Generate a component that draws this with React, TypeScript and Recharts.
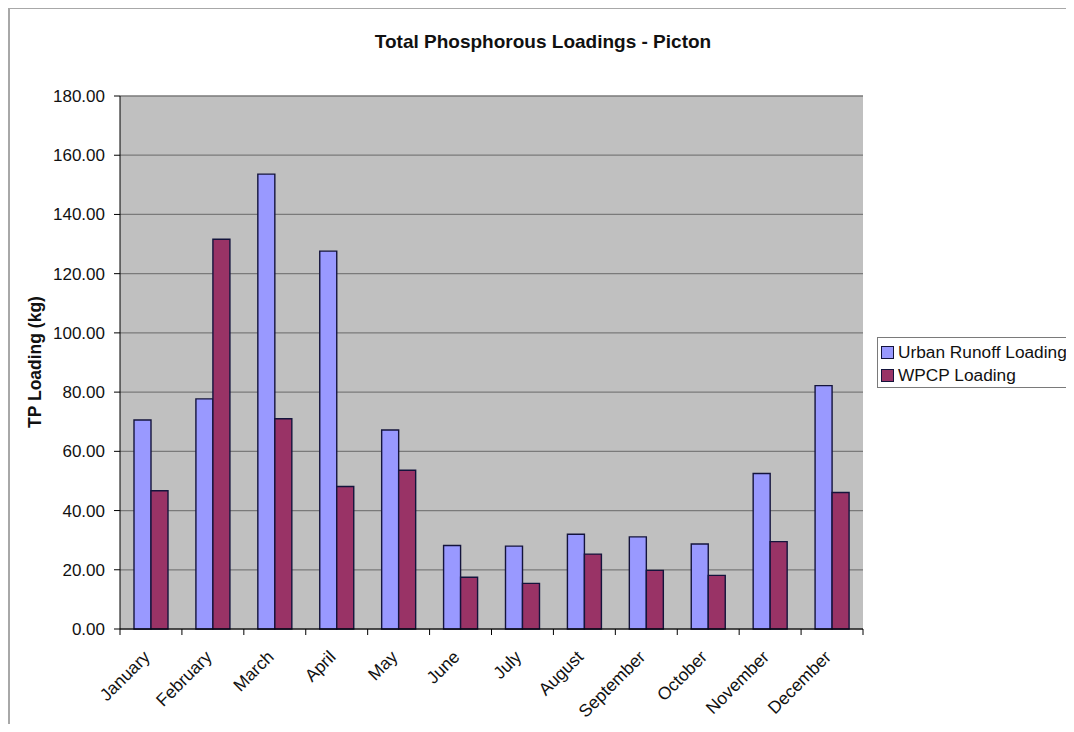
import { Bar, BarChart, CartesianGrid, Legend, XAxis, YAxis } from 'recharts'

const months = [
  'January', 'February', 'March', 'April', 'May', 'June',
  'July', 'August', 'September', 'October', 'November', 'December',
]
const urbanRunoff = [70.6, 77.7, 153.6, 127.6, 67.2, 28.2, 28.0, 32.0, 31.1, 28.7, 52.5, 82.2]
const wpcp = [46.7, 131.6, 71.0, 48.1, 53.6, 17.5, 15.4, 25.3, 19.8, 18.1, 29.5, 46.1]
const yTicks = [0, 20, 40, 60, 80, 100, 120, 140, 160, 180]

const data = months.map((m, i) => ({ month: m, urban: urbanRunoff[i], wpcp: wpcp[i] }))

const FONT = '"Liberation Sans", Arial, sans-serif'
const W = 1066
const H = 716
const MARGIN = { top: 88, right: 211, bottom: 15, left: 52 }
const Y_W = 60
const BAND = (W - MARGIN.left - Y_W - MARGIN.right) / months.length

function MonthTick(props: any) {
  const { x, y, payload, index } = props
  const half = BAND / 2
  const ax = x
  const ay = y + 29
  return (
    <g>
      <line x1={x + half} x2={x + half} y1={y} y2={y + 6} stroke="#000" />
      {index === 0 && <line x1={x - half} x2={x - half} y1={y} y2={y + 6} stroke="#000" />}
      <text
        x={ax}
        y={ay}
        transform={`rotate(-45 ${ax} ${ay})`}
        textAnchor="end"
        fontSize={17.5}
        fontFamily={FONT}
        fill="#111"
      >
        {payload.value}
      </text>
    </g>
  )
}

function LegendBox(props: any) {
  const { payload = [] } = props
  return (
    <div
      style={{
        border: '1px solid #7a7a7a',
        background: '#fff',
        width: 197,
        height: 51,
        paddingTop: 3,
        boxSizing: 'border-box',
        fontFamily: FONT,
        fontSize: 17.3,
        color: '#111',
      }}
    >
      {payload.map((p: any) => (
        <div key={p.value} style={{ display: 'flex', alignItems: 'center', height: 23, whiteSpace: 'nowrap' }}>
          <span
            style={{
              display: 'inline-block',
              width: 11,
              height: 11,
              marginLeft: 3,
              marginRight: 4,
              background: p.color,
              border: '1px solid #14143c',
            }}
          />
          {p.value}
        </div>
      ))}
    </div>
  )
}

export default function App() {
  return (
    <div style={{ position: 'relative', width: W, height: H }}>
      <div
        style={{
          position: 'absolute',
          left: 0,
          top: -1,
          width: W,
          height: H + 1,
          borderLeft: '2px solid #a8a8a8',
          borderTop: '2px solid #a8a8a8',
          boxSizing: 'border-box',
        }}
      />
      <BarChart
        width={W}
        height={H}
        data={data}
        margin={MARGIN}
        barSize={17}
        barGap={0}
        style={{ position: 'absolute', left: 0, top: 0 }}
      >
        <CartesianGrid fill="#c0c0c0" stroke="#7a7a7a" strokeWidth={1.3} vertical={false} />
        <XAxis
          dataKey="month"
          interval={0}
          height={80}
          tickSize={0}
          tickMargin={0}
          axisLine={{ stroke: '#000' }}
          tickLine={false}
          tick={<MonthTick />}
        />
        <YAxis
          domain={[0, 180]}
          ticks={yTicks}
          width={Y_W}
          tickSize={6}
          tickMargin={9}
          axisLine={{ stroke: '#000' }}
          tickLine={{ stroke: '#000' }}
          tickFormatter={(v) => Number(v).toFixed(2)}
          tick={{ fontSize: 17, fontFamily: FONT, fill: '#111' }}
        />
        <YAxis
          yAxisId="frame"
          orientation="right"
          domain={[0, 180]}
          width={0}
          tick={false}
          tickLine={false}
          axisLine={{ stroke: '#7a7a7a', strokeWidth: 1.3 }}
        />
        <Legend
          layout="horizontal"
          verticalAlign="middle"
          align="center"
          content={<LegendBox />}
          wrapperStyle={{ left: 869, top: 329, width: 197, height: 51 }}
        />
        <Bar
          dataKey="urban"
          name="Urban Runoff Loading"
          fill="#9999ff"
          stroke="#14143c"
          strokeWidth={1.4}
          isAnimationActive={false}
        />
        <Bar
          dataKey="wpcp"
          name="WPCP Loading"
          fill="#993366"
          stroke="#14143c"
          strokeWidth={1.4}
          isAnimationActive={false}
        />
        <text x={535} y={40} textAnchor="middle" fontSize={19} fontWeight="bold" fontFamily={FONT} fill="#111">
          Total Phosphorous Loadings - Picton
        </text>
        <text
          x={27}
          y={354}
          transform="rotate(-90 27 354)"
          textAnchor="middle"
          dominantBaseline="central"
          fontSize={17.5}
          fontWeight="bold"
          fontFamily={FONT}
          fill="#111"
        >
          TP Loading (kg)
        </text>
      </BarChart>
    </div>
  )
}
